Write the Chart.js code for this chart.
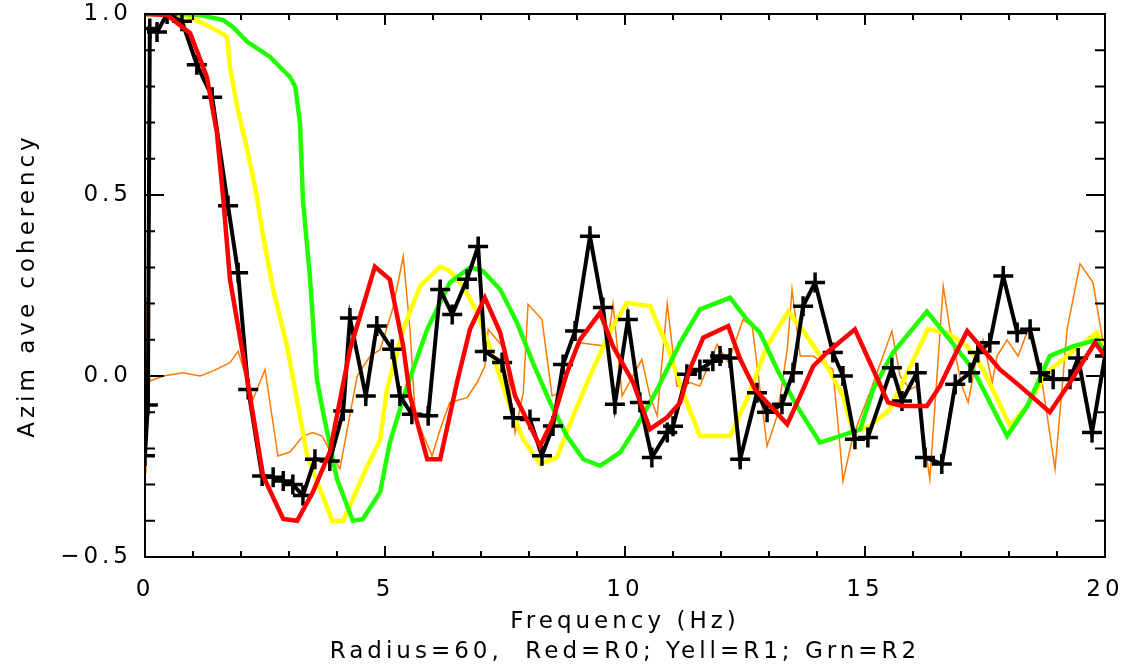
<!DOCTYPE html>
<html>
<head>
<meta charset="utf-8">
<script src="https://cdn.jsdelivr.net/npm/chart.js@4.4.1/dist/chart.umd.min.js"></script>
<style>
  html, body { margin: 0; padding: 0; background: #fff; }
  #wrap { width: 1131px; height: 668px; }
</style>
</head>
<body>
<div id="wrap"><canvas id="cohChart" width="1131" height="668"></canvas></div>
<script>
// azimuthally averaged coherency vs frequency (radius 60)

// black: measured, drawn with + markers
const blackFreq = [0.00, 0.06, 0.10, 0.25, 0.46, 0.77, 1.08, 1.40, 1.73, 1.94,
  2.15, 2.44, 2.67, 2.88, 3.08, 3.29, 3.54, 3.85, 4.13, 4.27,
  4.60, 4.83, 5.15, 5.31, 5.56, 5.90, 6.15, 6.40, 6.71, 6.94,
  7.08, 7.44, 7.67, 8.02, 8.27, 8.50, 8.71, 8.96, 9.27, 9.54,
  9.79, 10.06, 10.31, 10.56, 10.88, 11.00, 11.29, 11.56, 11.83, 11.98,
  12.19, 12.40, 12.75, 12.96, 13.27, 13.50, 13.71, 13.96, 14.33, 14.54,
  14.79, 15.06, 15.56, 15.77, 16.08, 16.25, 16.60, 16.88, 17.19, 17.35,
  17.60, 17.88, 18.17, 18.44, 18.65, 18.92, 19.27, 19.44, 19.73, 20.00];
const blackCoh = [-0.22, -0.08, 0.96, 0.95, 1.00, 0.98, 0.86, 0.77, 0.47, 0.285,
  -0.037, -0.276, -0.28, -0.29, -0.30, -0.33, -0.23, -0.235, -0.097, 0.16,
  -0.055, 0.138, 0.074, -0.055, -0.106, -0.11, 0.239, 0.17, 0.267, 0.358,
  0.068, 0.037, -0.115, -0.12, -0.22, -0.138, 0.032, 0.124, 0.386, 0.189,
  -0.078, 0.156, -0.073, -0.225, -0.156, -0.139, 0.005, 0.018, 0.041, 0.055,
  0.05, -0.23, -0.046, -0.1, -0.078, 0.009, 0.193, 0.258, 0.065, 0.0,
  -0.175, -0.17, 0.023, -0.069, 0.009, -0.225, -0.243, -0.023, 0.009, 0.065,
  0.092, 0.276, 0.12, 0.129, 0.009, -0.009, -0.009, 0.05, -0.156, 0.055];

// red = R0
const redFreq = [0, 0.46, 0.94, 1.29, 1.50, 1.63, 1.77, 2.13, 2.46, 2.88,
  3.17, 3.50, 3.85, 4.27, 4.79, 5.10, 5.38, 5.52, 5.88, 6.15,
  6.50, 6.77, 7.08, 7.40, 7.71, 8.23, 8.50, 8.79, 9.06, 9.48,
  9.75, 10.17, 10.52, 10.88, 11.15, 11.35, 11.63, 12.15, 12.40, 12.71,
  12.96, 13.38, 13.65, 13.92, 14.21, 14.79, 15.17, 15.48, 15.77, 16.29,
  16.56, 16.83, 17.13, 17.40, 17.81, 18.23, 18.85, 19.27, 19.79, 20.0];
const redCoh = [1.0, 0.997, 0.947, 0.826, 0.67, 0.49, 0.267, -0.009, -0.276, -0.395,
  -0.40, -0.32, -0.21, 0.073, 0.302, 0.267, 0.082, -0.055, -0.23, -0.23,
  -0.018, 0.129, 0.216, 0.12, -0.055, -0.194, -0.12, 0.009, 0.1, 0.175,
  0.082, -0.018, -0.147, -0.114, -0.073, 0.018, 0.106, 0.138, 0.046, -0.037,
  -0.073, -0.133, -0.055, 0.027, 0.065, 0.129, 0.018, -0.073, -0.083, -0.083,
  -0.028, 0.046, 0.124, 0.082, 0.018, -0.028, -0.1, -0.018, 0.092, 0.055];

// yellow = R1
const yelFreq = [0, 0.79, 1.08, 1.56, 1.71, 1.77, 1.92, 2.13, 2.33, 2.46,
  2.67, 2.96, 3.38, 3.90, 4.13, 4.54, 4.90, 5.04, 5.38, 5.73,
  6.15, 6.35, 6.63, 6.92, 7.25, 7.60, 7.88, 8.23, 8.58, 8.92,
  9.33, 9.75, 10.04, 10.52, 10.88, 11.21, 11.56, 12.19, 12.54, 12.96,
  13.40, 13.79, 14.21, 14.54, 14.75, 15.10, 15.52, 15.88, 16.31, 16.71,
  17.13, 17.46, 18.02, 18.38, 18.79, 19.21, 19.83, 20.0];
const yelCoh = [1.0, 0.997, 0.983, 0.95, 0.937, 0.854, 0.744, 0.625, 0.496, 0.386,
  0.239, 0.082, -0.221, -0.40, -0.40, -0.276, -0.175, -0.037, 0.129, 0.248,
  0.302, 0.29, 0.248, 0.175, 0.055, -0.083, -0.175, -0.243, -0.225, -0.11,
  0.018, 0.138, 0.202, 0.193, 0.082, -0.046, -0.166, -0.166, -0.064, 0.082,
  0.178, 0.11, 0.027, -0.055, -0.156, -0.138, -0.092, 0.009, 0.129, 0.12,
  0.082, 0.018, -0.138, -0.083, 0.009, 0.055, 0.12, 0.065];

// green = R2
const grnFreq = [0, 0.79, 1.15, 1.63, 1.83, 2.13, 2.60, 3.02, 3.13, 3.23,
  3.29, 3.44, 3.58, 3.71, 4.00, 4.33, 4.54, 4.90, 5.10, 5.46,
  5.88, 6.35, 6.77, 7.04, 7.40, 7.75, 8.08, 8.44, 8.79, 9.13,
  9.48, 9.90, 10.25, 10.67, 11.15, 11.56, 12.19, 12.54, 12.81, 13.17,
  13.58, 14.06, 14.48, 14.90, 15.17, 15.58, 16.29, 16.77, 17.25, 17.96,
  18.38, 18.85, 19.33, 19.83, 20.0];
const grnCoh = [1.0, 1.0, 0.997, 0.983, 0.964, 0.923, 0.882, 0.826, 0.799, 0.699,
  0.487, 0.267, -0.009, -0.1, -0.285, -0.40, -0.395, -0.32, -0.184, -0.028,
  0.129, 0.258, 0.30, 0.29, 0.239, 0.147, 0.037, -0.073, -0.166, -0.23,
  -0.248, -0.211, -0.138, -0.037, 0.092, 0.184, 0.216, 0.156, 0.12, 0.018,
  -0.083, -0.184, -0.166, -0.147, -0.037, 0.064, 0.178, 0.1, 0.018, -0.166,
  -0.083, 0.055, 0.082, 0.1, 0.064];

// thin orange trace
const orgFreq = [0, 0.02, 0.10, 0.38, 0.79, 1.15, 1.42, 1.77, 1.94, 2.25,
  2.50, 2.77, 3.02, 3.29, 3.50, 3.69, 4.06, 4.42, 4.69, 4.90,
  5.17, 5.38, 5.52, 5.63, 5.98, 6.15, 6.35, 6.71, 6.92, 7.08,
  7.15, 7.50, 7.71, 7.88, 7.98, 8.27, 8.48, 8.65, 9.06, 9.33,
  9.63, 9.75, 9.94, 10.35, 10.52, 10.67, 10.88, 11.08, 11.35, 11.56,
  11.92, 12.15, 12.46, 12.65, 12.96, 13.17, 13.38, 13.48, 13.65, 13.92,
  14.33, 14.48, 14.54, 14.75, 15.10, 15.56, 15.73, 15.94, 16.08, 16.35,
  16.63, 16.77, 17.02, 17.15, 17.33, 17.46, 17.65, 17.75, 17.96, 18.19,
  18.40, 18.65, 18.96, 19.21, 19.48, 19.75, 19.96];
const orgCoh = [-0.267, 0.217, -0.014, 0.0, 0.009, 0.0, 0.014, 0.037, 0.068, -0.064,
  0.018, -0.221, -0.21, -0.166, -0.156, -0.166, -0.257, 0.0, 0.055, 0.073,
  0.19, 0.33, 0.129, -0.11, -0.221, -0.147, -0.073, -0.06, -0.018, 0.027,
  0.129, 0.073, -0.156, -0.046, 0.198, 0.156, -0.055, -0.046, 0.092, 0.087,
  0.082, 0.2, -0.055, 0.046, -0.055, -0.11, 0.2, -0.028, -0.018, -0.028,
  0.087, 0.037, 0.156, 0.138, -0.194, -0.11, 0.073, 0.239, 0.055, 0.055,
  0.018, -0.194, -0.29, -0.166, -0.046, 0.124, 0.0, -0.037, -0.028, -0.285,
  0.248, 0.129, -0.028, -0.073, 0.055, 0.1, -0.018, 0.055, 0.1, 0.055,
  0.129, 0.018, -0.257, 0.129, 0.31, 0.258, 0.092];

const pairs = (xs, ys) => xs.map((x, i) => ({ x: x, y: ys[i] }));

const FONT = { family: "'DejaVu Sans', sans-serif", size: 23, lineHeight: 1.0 };

// IDL style box: frame on all four sides, ticks pointing inward
const frameTicks = {
  id: 'frameTicks',
  afterDraw(chart) {
    const { ctx, chartArea: a, scales: { x, y } } = chart;
    ctx.save();
    ctx.strokeStyle = '#000';
    ctx.lineWidth = 2;
    ctx.strokeRect(a.left, a.top, a.right - a.left, a.bottom - a.top);
    ctx.beginPath();
    for (let f = 0; f <= 20; f++) {
      const px = x.getPixelForValue(f);
      const len = f % 5 === 0 ? 11 : 6;
      ctx.moveTo(px, a.bottom); ctx.lineTo(px, a.bottom - len);
      ctx.moveTo(px, a.top); ctx.lineTo(px, a.top + len);
    }
    for (let k = -5; k <= 10; k++) {
      const py = y.getPixelForValue(k / 10);
      const len = k % 5 === 0 ? 19 : 10;
      ctx.moveTo(a.left, py); ctx.lineTo(a.left + len, py);
      ctx.moveTo(a.right, py); ctx.lineTo(a.right - len, py);
    }
    ctx.stroke();
    ctx.restore();
  }
};

// the vector font in the original is widely spaced
const spacedText = {
  id: 'spacedText',
  beforeDraw(chart) { chart.ctx.letterSpacing = '4px'; }
};

// keep the plot box where the original has it (no extra room for edge labels)
const noEdgePad = (s) => {
  s.paddingTop = 0; s.paddingBottom = 0; s.paddingLeft = 0; s.paddingRight = 0;
};

new Chart(document.getElementById('cohChart'), {
  type: 'scatter',
  data: {
    datasets: [
      { label: 'R0', data: pairs(redFreq, redCoh), borderColor: '#ff0000', borderWidth: 4.5, pointRadius: 0, showLine: true },
      { label: 'measured', data: pairs(blackFreq, blackCoh), borderColor: '#000000', backgroundColor: '#000000',
        borderWidth: 4, pointStyle: 'cross', pointRadius: 10, pointBorderWidth: 3.5, showLine: true },
      { label: 'R2', data: pairs(grnFreq, grnCoh), borderColor: '#22ff00', borderWidth: 4.5, pointRadius: 0, showLine: true },
      { label: 'R1', data: pairs(yelFreq, yelCoh), borderColor: '#ffff00', borderWidth: 4.5, pointRadius: 0, showLine: true },
      { label: 'orange', data: pairs(orgFreq, orgCoh), borderColor: '#ff7a00', borderWidth: 1.5, pointRadius: 0, showLine: true }
    ]
  },
  options: {
    responsive: false,
    animation: false,
    events: [],
    layout: { padding: { top: 14, right: 26, left: 0, bottom: 0 } },
    plugins: { legend: { display: false }, tooltip: { enabled: false } },
    scales: {
      x: {
        type: 'linear', min: 0, max: 20,
        afterFit: (s) => { s.height = 111; noEdgePad(s); },
        grid: { display: false, drawTicks: false },
        border: { display: false },
        ticks: { stepSize: 5, color: '#000', font: FONT, padding: 22, maxRotation: 0 },
        title: {
          display: true, color: '#000',
          text: ['Frequency (Hz)', 'Radius=60,  Red=R0; Yell=R1; Grn=R2'],
          font: { family: "'DejaVu Sans', sans-serif", size: 23, lineHeight: '30px' },
          padding: { top: 0, bottom: 1 }
        }
      },
      y: {
        type: 'linear', min: -0.5, max: 1.0,
        afterFit: (s) => { s.width = 145; noEdgePad(s); },
        grid: { display: false, drawTicks: false },
        border: { display: false },
        ticks: { stepSize: 0.5, color: '#000', font: FONT, padding: 13,
          callback: (v) => (v < 0 ? '\u2212' + Math.abs(v).toFixed(1) : v.toFixed(1)) },
        title: {
          display: true, color: '#000', text: 'Azim ave coherency',
          font: { family: "'DejaVu Sans', sans-serif", size: 23, lineHeight: '30px' },
          padding: { top: 13, bottom: 0 }
        }
      }
    }
  },
  plugins: [spacedText, frameTicks]
});
</script>
</body>
</html>
